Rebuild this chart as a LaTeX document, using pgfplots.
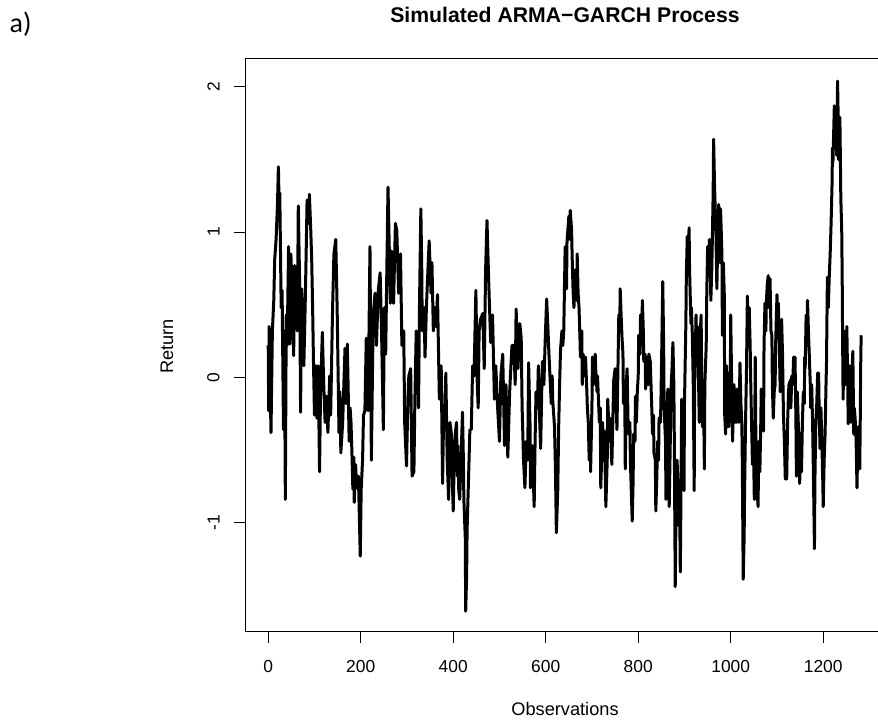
\documentclass[border=0pt]{standalone}
\usepackage{fontspec}
\setmainfont{Liberation Sans}
\newfontfamily\carlito{Carlito}
\usepackage{pgfplots}
\pgfplotsset{compat=1.18}
\usepackage{pgfplotstable}
\pgfplotstableread{
t v
0 0.22
1 -0.23
2 0.35
6 -0.38
9 0.32
12 0.53
14 0.81
17 0.95
20 1.19
22 1.45
24 1.11
25 1.27
28 0.48
30 0.60
33 -0.36
35 0.32
37 -0.84
39 0.43
41 0.22
44 0.90
47 0.23
49 0.85
53 0.48
55 0.15
57 0.77
60 0.43
63 0.32
65 1.18
68 0.64
70 -0.24
72 0.61
75 0.43
77 0.08
80 0.51
82 0.85
84 1.22
87 1.06
89 1.26
92 1.01
94 0.81
96 0.48
98 0.08
100 -0.26
103 0.08
105 -0.28
108 0.08
111 -0.65
113 -0.13
117 0.31
120 -0.05
123 -0.31
126 -0.13
129 -0.38
133 0.01
135 -0.26
139 0.45
142 0.85
146 0.95
149 0.48
153 -0.38
155 -0.10
157 -0.52
161 -0.31
164 0.00
166 0.20
168 -0.18
171 0.23
175 -0.44
177 -0.21
179 -0.31
181 -0.52
183 -0.77
185 -0.55
186 -0.86
189 -0.60
191 -0.76
195 -0.68
199 -1.23
201 -0.77
204 -0.57
206 -0.26
209 -0.23
212 0.27
216 -0.23
220 0.90
223 -0.57
227 0.43
231 0.58
234 0.22
238 0.60
242 0.72
245 0.32
249 -0.36
251 0.48
254 0.16
256 0.64
259 1.31
262 0.85
264 0.51
267 0.87
271 0.51
275 1.06
278 1.01
282 0.58
286 0.85
289 0.22
293 0.32
295 -0.31
299 -0.61
302 -0.15
304 0.01
308 0.06
311 -0.68
315 -0.65
317 -0.18
320 0.32
322 0.27
325 -0.21
327 0.48
330 1.16
332 0.74
333 0.32
337 0.48
339 0.14
342 0.48
344 0.64
348 0.94
352 0.58
354 0.79
357 0.32
360 0.48
363 0.35
366 0.57
370 -0.15
374 0.08
377 -0.73
379 -0.31
382 -0.21
384 0.03
387 -0.57
390 -0.84
393 -0.31
396 -0.39
398 -0.71
400 -0.92
403 -0.44
407 -0.31
409 -0.68
410 -0.47
412 -0.78
414 -0.84
417 -0.55
420 -0.24
422 -0.57
423 -0.84
426 -1.10
427 -1.61
429 -1.36
430 -1.05
433 -0.71
436 -0.36
439 -0.36
442 0.08
445 0.01
449 0.60
452 -0.05
454 -0.21
456 0.32
459 0.40
464 0.44
467 0.06
470 0.74
473 1.08
476 0.74
478 0.53
481 0.24
485 0.43
489 -0.15
492 0.08
496 -0.21
500 -0.44
503 0.01
507 0.16
511 -0.47
514 -0.05
518 -0.55
522 -0.10
527 0.22
531 0.22
534 -0.05
536 0.47
540 0.06
544 0.37
547 0.27
549 -0.21
552 -0.57
555 -0.76
558 -0.44
561 -0.57
563 0.10
566 -0.31
567 -0.76
569 -0.65
571 -0.47
575 -0.89
577 -0.44
579 -0.10
582 -0.21
584 0.08
586 -0.21
589 -0.49
592 0.01
593 0.11
596 -0.05
599 0.27
602 0.54
605 0.32
607 0.16
610 -0.05
612 -0.18
614 0.01
615 -0.15
619 -0.34
621 -0.63
623 -1.07
626 -0.78
628 -0.34
630 -0.05
632 0.19
635 0.32
637 0.22
639 0.32
642 0.90
645 0.61
646 0.93
650 1.11
652 0.95
653 1.15
656 1.01
657 0.85
659 0.61
661 0.48
663 0.64
664 0.74
667 0.53
668 0.85
670 0.58
672 0.48
674 0.27
675 0.14
678 0.32
679 -0.05
681 0.16
683 0.01
685 0.08
686 0.14
689 -0.10
690 -0.21
692 -0.31
694 -0.57
696 -0.31
697 -0.65
700 -0.18
701 0.14
703 -0.05
705 0.01
707 0.16
708 0.06
711 -0.10
712 0.01
716 -0.31
718 -0.21
719 -0.76
722 -0.44
723 -0.31
725 -0.57
727 -0.37
730 -0.89
733 -0.57
734 -0.15
738 -0.44
739 -0.28
743 -0.60
747 -0.02
750 0.06
754 -0.36
758 0.43
760 0.32
761 0.61
763 0.43
765 0.27
767 0.16
768 -0.18
771 -0.15
772 -0.63
774 -0.05
776 0.06
778 -0.31
779 -0.39
782 -0.31
783 -0.57
785 -0.78
787 -0.99
789 -0.71
790 -0.39
793 -0.44
794 -0.13
796 -0.31
798 -0.10
800 0.01
801 0.29
804 0.16
805 0.43
807 0.22
809 0.53
811 0.32
812 0.11
815 0.16
816 -0.08
818 0.03
820 0.14
822 -0.05
823 0.16
826 0.11
827 0.01
829 -0.18
831 -0.39
833 -0.26
834 -0.52
837 -0.57
838 -0.92
840 -0.71
842 -0.44
844 -0.57
845 -0.28
848 -0.31
849 -0.18
851 0.22
853 0.66
855 0.22
856 -0.21
859 -0.44
860 -0.84
862 -0.31
864 -0.08
866 -0.57
867 -0.89
870 -0.31
871 -0.08
873 0.06
875 0.24
877 -0.05
878 -0.42
880 -1.44
882 -0.84
884 -0.57
886 -0.76
887 -1.02
889 -0.71
891 -1.34
893 -0.57
894 -0.15
897 -0.57
899 -0.78
900 -0.18
903 0.37
904 0.69
906 0.97
908 0.85
910 1.03
911 0.74
914 0.37
915 0.48
917 0.29
919 -0.05
921 -0.78
922 -0.05
925 0.43
926 0.22
928 0.35
930 0.06
932 -0.31
933 0.22
936 0.43
937 0.06
939 -0.34
941 -0.05
943 -0.63
944 -0.05
947 0.22
948 0.53
950 0.90
952 0.74
954 0.95
956 0.74
957 0.53
959 0.74
960 0.90
962 1.27
963 1.64
965 1.32
966 1.21
968 1.01
970 0.61
972 0.95
974 1.19
976 0.95
977 0.79
978 1.16
981 0.85
982 0.29
984 0.79
986 0.58
987 -0.26
989 -0.39
991 0.08
993 -0.34
995 0.03
996 -0.34
999 -0.05
1000 0.43
1002 -0.05
1004 -0.44
1006 -0.13
1007 -0.05
1009 -0.31
1011 -0.18
1013 -0.31
1014 -0.08
1017 -0.10
1018 -0.31
1020 0.10
1022 -0.18
1024 -0.31
1025 -0.57
1027 -1.39
1029 -1.10
1030 -0.78
1032 -0.31
1034 0.03
1036 0.56
1038 0.27
1040 0.48
1042 0.22
1043 0.01
1045 -0.31
1047 -0.60
1049 -0.44
1051 -0.84
1053 0.14
1054 -0.31
1056 -0.84
1058 -0.57
1059 -0.89
1061 -0.44
1063 -0.65
1065 -0.31
1066 -0.08
1069 -0.18
1071 -0.37
1072 0.22
1074 0.51
1076 0.32
1077 0.51
1079 0.64
1081 0.70
1083 0.48
1085 0.68
1087 0.32
1089 0.29
1090 -0.05
1092 -0.28
1094 -0.10
1096 -0.05
1097 0.22
1100 0.57
1101 0.48
1103 0.51
1105 0.22
1107 -0.10
1108 0.08
1110 0.40
1112 0.16
1114 -0.26
1116 -0.44
1118 -0.70
1119 -0.44
1121 -0.70
1123 -0.31
1125 -0.10
1126 -0.05
1129 -0.02
1130 -0.21
1132 0.01
1134 -0.05
1136 0.14
1137 -0.05
1139 0.14
1141 -0.31
1142 -0.68
1144 -0.10
1146 -0.31
1148 -0.44
1149 -0.73
1152 -0.44
1153 -0.65
1155 -0.31
1157 -0.10
1159 -0.18
1160 0.14
1161 0.06
1163 0.43
1165 0.27
1166 0.53
1168 0.32
1170 0.14
1172 -0.05
1173 -0.21
1175 -0.05
1177 -0.31
1179 -0.71
1181 -1.18
1182 -0.71
1184 -0.31
1186 -0.18
1188 0.03
1190 0.03
1191 -0.18
1193 -0.49
1195 -0.21
1197 -0.44
1199 -0.71
1200 -0.89
1202 -0.57
1204 -0.39
1206 -0.05
1207 0.08
1209 0.69
1211 0.48
1213 0.69
1215 0.85
1217 1.06
1219 1.32
1220 1.58
1221 1.48
1224 1.87
1226 1.72
1227 1.79
1229 1.53
1231 2.04
1232 1.85
1233 1.50
1235 1.66
1236 1.79
1237 1.53
1238 1.24
1240 1.01
1241 0.69
1242 0.22
1243 -0.15
1244 0.08
1245 0.32
1247 0.01
1248 -0.05
1250 0.16
1251 0.35
1253 -0.05
1254 -0.32
1256 -0.05
1257 0.08
1258 -0.10
1260 -0.31
1261 -0.05
1264 0.18
1266 -0.39
1267 -0.21
1269 -0.28
1271 -0.42
1273 -0.76
1274 -0.57
1276 -0.34
1277 -0.44
1279 -0.63
1280 -0.31
1281 0.08
1282 0.29
}\series
\begin{document}
\begin{tikzpicture}
\useasboundingbox (0,0) rectangle (439pt,361pt);
\begin{axis}[
  at={(122.5pt,45pt)}, anchor=south west,
  scale only axis, width=319.45pt, height=286.5pt,
  xmin=-50.2, xmax=1331.2, ymin=-1.753, ymax=2.192,
  xtick={0,200,400,600,800,1000,1200}, ytick={-1,0,1,2},
  tick align=outside, xtick pos=left, ytick pos=left,
  major tick length=5.5pt,
  tick style={black, line width=0.5pt},
  axis line style={black, line width=0.5pt},
  ticklabel style={font=\fontsize{8.7}{10}\selectfont},
  xticklabel style={anchor=north, inner sep=0pt},
  yticklabel style={rotate=90, anchor=south, inner sep=0pt},
  xticklabel shift=8.5pt,
  yticklabel shift=7pt,
  /pgf/number format/assume math mode=true,
  /pgf/number format/1000 sep={},
]
\addplot[black, line width=1.5pt, line join=round, mark=none] table[x=t, y=v] {\series};
\end{axis}
\node[anchor=base, font=\bfseries\fontsize{10.6}{12}\selectfont, inner sep=0pt] at (282.5pt,349.5pt) {Simulated ARMA−GARCH Process};
\node[anchor=base, font=\fontsize{9.1}{11}\selectfont, inner sep=0pt] at (282.5pt,3pt) {Observations};
\node[anchor=base, rotate=90, font=\fontsize{9.1}{11}\selectfont, inner sep=0pt] at (86.6pt,187.75pt) {Return};
\node[anchor=base west, font=\carlito\fontsize{14}{16}\selectfont, inner sep=0pt] at (4.6pt,344.5pt) {a)};
\end{tikzpicture}
\end{document}
